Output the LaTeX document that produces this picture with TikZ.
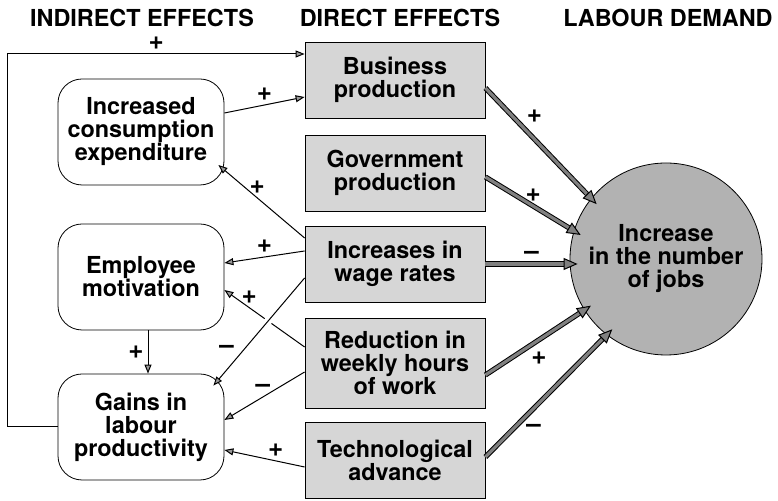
\documentclass[tikz,border=0pt]{standalone}
\usepackage{fontspec}
\setmainfont{TeX Gyre Heros}
\usetikzlibrary{arrows.meta}

\begin{document}
\begin{tikzpicture}[
    x=0.5pt, y=-0.5pt,
    font=\fontsize{11.7}{11.5}\selectfont\bfseries,
    dir/.style={draw, fill=black!16, minimum width=90pt, minimum height=38pt,
                align=center, inner sep=1pt},
    ind/.style={draw, rounded corners=12pt, minimum width=83pt, minimum height=53pt,
                align=center, inner sep=1pt},
    demand/.style={draw, circle, fill=black!30, minimum size=96pt, align=center, inner sep=0pt},
    head/.style={font=\fontsize{11.7}{12}\selectfont\bfseries},
    arr/.style={-{Triangle[length=4.5pt, width=3.5pt, fill=black!40]}, line width=0.5pt},
    big/.style={-{Triangle[length=7pt, width=6pt, fill=black!50]}, line width=0.5pt,
                double=black!50, double distance=1.6pt, shorten >=-4pt},
    sgn/.style={inner sep=2pt, font=\fontsize{13}{13}\selectfont\bfseries}
]
\useasboundingbox (0,0) rectangle (778,501);

\node[head] (hind) at (142,18) {INDIRECT EFFECTS};
\node[head] (hdir) at (400,18) {DIRECT EFFECTS};
\node[head] (hdem) at (668,18) {LABOUR DEMAND};

\node[dir] (bus)  at (395,80)  {Business\\production};
\node[dir] (gov)  at (395,173) {Government\\production};
\node[dir] (wage) at (395,264) {Increases in\\wage rates};
\node[dir, minimum height=45pt] (red) at (395,363) {Reduction in\\weekly hours\\of work};
\node[dir] (tech) at (395,460) {Technological\\advance};

\node[ind] (cons) at (141,132) {Increased\\consumption\\expenditure};
\node[ind] (emp)  at (141,277) {Employee\\motivation};
\node[ind] (gain) at (141,427) {Gains in\\labour\\productivity};

\node[demand] (jobs) at (666,259) {Increase\\in the number\\of jobs};

% feedback loop round the left side
\draw[arr] (gain.west) -- ++(-25pt,0) |- ([yshift=13pt]bus.west) node[pos=0.75, above, sgn] {+};

\draw[arr] ([yshift=9.5pt]cons.east) -- node[above, sgn] {+} ([yshift=-8.5pt]bus.west);
\draw[arr] ([yshift=13pt]wage.west) -- node[pos=0.55, above, sgn] {+} ([xshift=-3pt, yshift=-16.5pt]cons.east);
\draw[arr] ([yshift=6.5pt]wage.west) -- node[above, sgn] {+} ([yshift=7pt]emp.east);
\draw[arr] ([yshift=8pt]red.west) -- node[pos=0.69, above, sgn] {+} ([yshift=-6.5pt]emp.east);
\draw[arr, preaction={draw=white, line width=4pt, arrows=-, shorten <=8pt, shorten >=8pt}]
    ([yshift=-7pt]wage.west) -- node[pos=0.66, left=3pt, sgn] {--} ([xshift=-5.5pt, yshift=-6pt]gain.north east);
\draw[arr] ([yshift=-4.5pt]red.west) -- node[pos=0.52, above, sgn] {--} ([yshift=3.5pt]gain.east);
\draw[arr] ([yshift=-3.5pt]tech.west) -- node[pos=0.36, above, sgn] {+} ([yshift=-11.5pt]gain.east);
\draw[arr] ([xshift=3.5pt]emp.south) -- node[left, sgn] {+} ([xshift=3.5pt]gain.north);

% direct effects on jobs
\draw[big] ([yshift=-4pt]bus.east) -- node[pos=0.35, above right, sgn] {+} (jobs.141);
\draw[big] ([yshift=-2pt]gov.east) -- node[pos=0.54, above, sgn] {+} (jobs.163);
\draw[big] (wage.east) -- node[pos=0.55, above, sgn] {--} (wage.east -| jobs.west);
\draw[big] ([yshift=-6pt]red.east) -- node[pos=0.42, below right, sgn] {+} (jobs.212);
\draw[big] ([yshift=1.5pt]tech.east) -- node[pos=0.3, below right, sgn] {--} (jobs.232);
\end{tikzpicture}
\end{document}
